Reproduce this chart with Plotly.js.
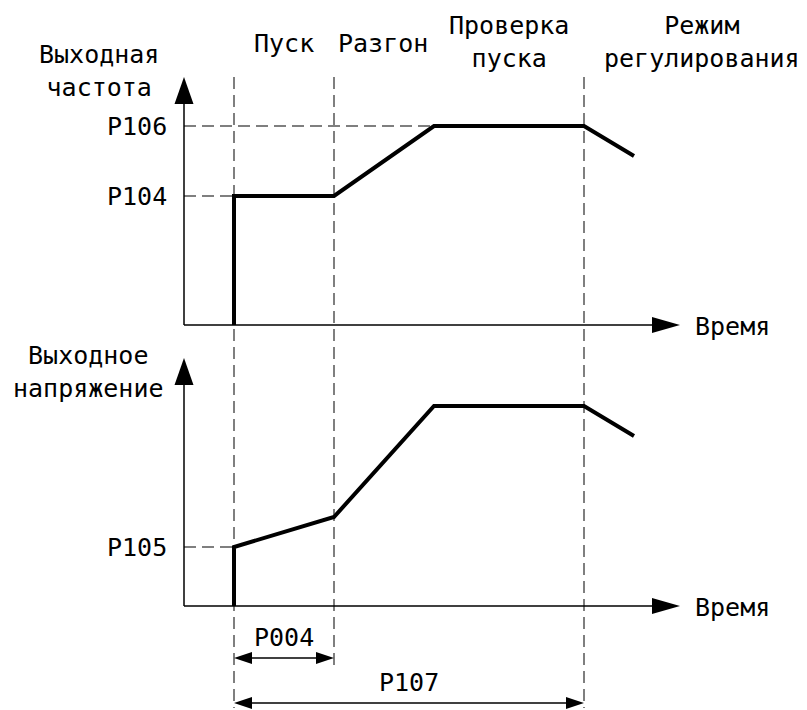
<!DOCTYPE html>
<html><head><meta charset="utf-8">
<script src="https://cdn.plot.ly/plotly-3.0.1.min.js"></script>
<style>html,body{margin:0;padding:0;background:#fff}#chart{width:807px;height:710px}</style>
</head><body><div id="chart"></div>
<script>
// Time (arbitrary units) of phase boundaries
const phaseTimes = [1, 3, 5, 8, 9];
// Output frequency curve
const freqT = [1, 1, 3, 5, 8, 9];
const freqV = [0, 12.9, 12.9, 19.9, 19.9, 16.9];
// Output voltage curve
const voltT = [1, 1, 3, 5, 8, 9];
const voltV = [0, 5.9, 8.9, 20, 20, 17];
// Parameter levels
const P104 = 12.9, P106 = 19.9, P105 = 5.9;
const tickLabels = ['P106', 'P104', 'P105'];
const phaseLabels = ['Пуск', 'Разгон', 'Проверка<br>пуска', 'Режим<br>регулирования'];
const tStart = 1, tAccel = 3, tCheckEnd = 8;
const xAxisEnd = 9.92, yAxisEnd = 24.8;

const FONT = 'DejaVu Sans Mono';
const dashStyle = {color: '#555', width: 1.5, dash: '12px,6px'};
const black = {color: '#000', width: 1.5};

const traces = [
  {x: freqT, y: freqV, mode: 'lines', line: {color: '#000', width: 4}, xaxis: 'x', yaxis: 'y', hoverinfo: 'skip'},
  {x: voltT, y: voltV, mode: 'lines', line: {color: '#000', width: 4}, xaxis: 'x', yaxis: 'y2', hoverinfo: 'skip'}
];

const shapes = [];
function axisShapes(yref) {
  const xhLen = 0.56, xhHalf = 0.8, yhLen = 2.7, yhHalf = 0.19;
  shapes.push({type: 'line', xref: 'x', yref: yref, x0: 0, y0: 0, x1: xAxisEnd - xhLen, y1: 0, line: black});
  shapes.push({type: 'path', xref: 'x', yref: yref,
    path: `M${xAxisEnd - xhLen},${-xhHalf} L${xAxisEnd},0 L${xAxisEnd - xhLen},${xhHalf} Z`,
    fillcolor: '#000', line: {width: 0}});
  shapes.push({type: 'line', xref: 'x', yref: yref, x0: 0, y0: 0, x1: 0, y1: yAxisEnd - yhLen, line: black});
  shapes.push({type: 'path', xref: 'x', yref: yref,
    path: `M${-yhHalf},${yAxisEnd - yhLen} L0,${yAxisEnd} L${yhHalf},${yAxisEnd - yhLen} Z`,
    fillcolor: '#000', line: {width: 0}});
}
axisShapes('y');
axisShapes('y2');

// dashed vertical phase boundaries
shapes.push({type: 'line', xref: 'x', yref: 'y', x0: tStart, x1: tStart, y0: 24.8, y1: -38.3, line: dashStyle, layer: 'below'});
shapes.push({type: 'line', xref: 'x', yref: 'y', x0: tAccel, x1: tAccel, y0: 24.8, y1: -34.2, line: dashStyle, layer: 'below'});
shapes.push({type: 'line', xref: 'x', yref: 'y', x0: tCheckEnd, x1: tCheckEnd, y0: 24.8, y1: -38.3, line: dashStyle, layer: 'below'});
// dashed horizontal levels
shapes.push({type: 'line', xref: 'x', yref: 'y', x0: 0, x1: tCheckEnd, y0: P106, y1: P106, line: dashStyle, layer: 'below'});
shapes.push({type: 'line', xref: 'x', yref: 'y', x0: 0, x1: tStart, y0: P104, y1: P104, line: dashStyle, layer: 'below'});
shapes.push({type: 'line', xref: 'x', yref: 'y2', x0: 0, x1: tStart, y0: P105, y1: P105, line: dashStyle, layer: 'below'});

function dblArrow(x0, x1, y) {
  const hl = 0.36, hh = 0.6;
  shapes.push({type: 'line', xref: 'x', yref: 'y2', x0: x0 + hl, x1: x1 - hl, y0: y, y1: y, line: black});
  shapes.push({type: 'path', xref: 'x', yref: 'y2', path: `M${x0 + hl},${y - hh} L${x0},${y} L${x0 + hl},${y + hh} Z`, fillcolor: '#000', line: {width: 0}});
  shapes.push({type: 'path', xref: 'x', yref: 'y2', path: `M${x1 - hl},${y - hh} L${x1},${y} L${x1 - hl},${y + hh} Z`, fillcolor: '#000', line: {width: 0}});
}
dblArrow(tStart, tAccel, -5.2);
dblArrow(tStart, tCheckEnd, -9.7);

const tf = {family: FONT, size: 25, color: '#000'};
function ann(text, x, y, yref, xanchor) {
  return {text: text, x: x, y: y, xref: 'x', yref: yref, showarrow: false, font: tf,
    xanchor: xanchor || 'center', yanchor: 'middle', align: 'center'};
}
const annotations = [
  ann('Выходная<br>частота', -1.71, 25.4, 'y'),
  ann('Выходное<br>напряжение', -1.92, 23.4, 'y2'),
  ann(phaseLabels[0], 2, 28.2, 'y'),
  ann(phaseLabels[1], 3.98, 28.2, 'y'),
  ann(phaseLabels[2], 6.5, 28.3, 'y'),
  ann(phaseLabels[3], 10.36, 28.3, 'y'),
  ann(tickLabels[0], -0.3, P106, 'y', 'right'),
  ann(tickLabels[1], -0.3, P104, 'y', 'right'),
  ann(tickLabels[2], -0.3, P105, 'y2', 'right'),
  ann('Время', 10.18, -0.1, 'y', 'left'),
  ann('Время', 10.18, -0.1, 'y2', 'left'),
  ann('P004', 2, -3.1, 'y2'),
  ann('P107', 4.5, -7.6, 'y2')
];

const layout = {
  width: 807, height: 710,
  margin: {l: 0, r: 0, t: 0, b: 0},
  paper_bgcolor: '#fff', plot_bgcolor: '#fff',
  showlegend: false,
  xaxis: {range: [-3.68, 12.46], visible: false, fixedrange: true},
  yaxis: {range: [-38.5, 32.5], visible: false, fixedrange: true},
  yaxis2: {range: [-10.4, 60.6], visible: false, overlaying: 'y', fixedrange: true},
  shapes: shapes,
  annotations: annotations
};
Plotly.newPlot('chart', traces, layout, {displayModeBar: false, staticPlot: true});
</script></body></html>
